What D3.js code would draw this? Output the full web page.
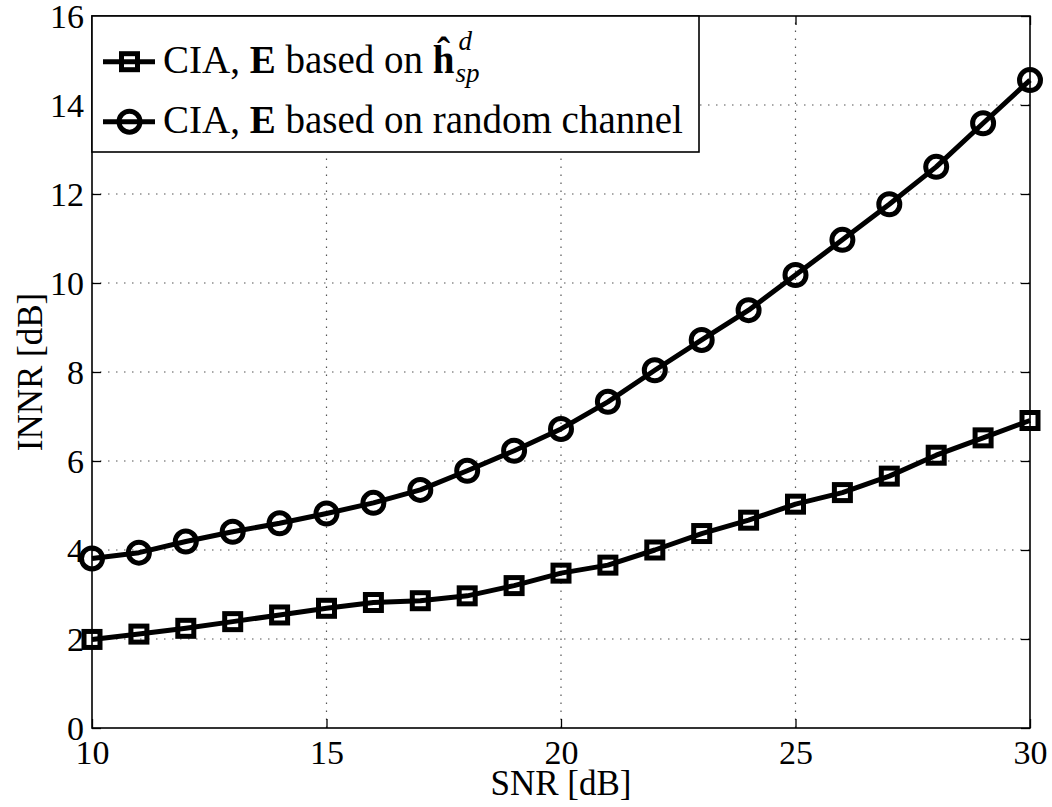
<!DOCTYPE html>
<html>
<head>
<meta charset="utf-8">
<script src="https://cdn.jsdelivr.net/npm/d3@7"></script>
<style>
  html, body { margin: 0; padding: 0; background: #fff; }
  svg { display: block; }
  text { font-family: "Liberation Serif", "Times New Roman", serif; fill: #000; }
</style>
</head>
<body>
<svg id="chart" width="1052" height="807"></svg>
<script>
// ---- data ----
const snr = [10,11,12,13,14,15,16,17,18,19,20,21,22,23,24,25,26,27,28,29,30];
const innrEstimated = [1.99,2.11,2.24,2.39,2.54,2.69,2.82,2.86,2.97,3.20,3.48,3.66,4.00,4.37,4.67,5.03,5.29,5.66,6.13,6.52,6.91];
const innrRandom = [3.81,3.94,4.19,4.41,4.60,4.82,5.06,5.35,5.78,6.23,6.72,7.33,8.04,8.72,9.39,10.18,10.97,11.77,12.61,13.59,14.56];
const xTicks = [10,15,20,25,30];
const yTicks = [0,2,4,6,8,10,12,14,16];
const xLabel = "SNR [dB]";
const yLabel = "INNR [dB]";
const legendRandom = "CIA, E based on random channel";

// ---- layout ----
const svg = d3.select("#chart");
const L = 92, R = 1030, T = 16, B = 728;
const x = d3.scaleLinear().domain([10, 30]).range([L, R]);
const y = d3.scaleLinear().domain([0, 16]).range([B, T]);
const tickLen = 9;

// grid
const grid = svg.append("g").attr("stroke", "#555").attr("stroke-width", 1.2)
  .attr("stroke-dasharray", "1.5,6.5");
grid.selectAll("line.gx").data(xTicks.slice(1, -1)).join("line")
  .attr("x1", d => x(d)).attr("x2", d => x(d)).attr("y1", B).attr("y2", T);
grid.selectAll("line.gy").data(yTicks.slice(1, -1)).join("line")
  .attr("x1", L).attr("x2", R).attr("y1", d => y(d)).attr("y2", d => y(d));

// axes (ticks inside, mirrored)
const axFont = 34;
const gB = svg.append("g").attr("transform", `translate(0,${B})`)
  .call(d3.axisBottom(x).tickValues(xTicks).tickSize(-tickLen).tickPadding(26).tickFormat(d3.format("d")));
const gT = svg.append("g").attr("transform", `translate(0,${T})`)
  .call(d3.axisTop(x).tickValues(xTicks).tickSize(-tickLen).tickFormat(""));
const gL = svg.append("g").attr("transform", `translate(${L},0)`)
  .call(d3.axisLeft(y).tickValues(yTicks).tickSize(-tickLen).tickPadding(8).tickFormat(d3.format("d")));
const gR = svg.append("g").attr("transform", `translate(${R},0)`)
  .call(d3.axisRight(y).tickValues(yTicks).tickSize(-tickLen).tickFormat(""));
[gB, gT, gL, gR].forEach(g => {
  g.select(".domain").remove();
  g.selectAll(".tick line").attr("stroke", "#000").attr("stroke-width", 1.3);
  g.selectAll("text").attr("font-family", "Liberation Serif").attr("font-size", axFont).attr("fill", "#000");
});
gB.selectAll("text").attr("dy", 0).attr("y", 764 - B);
gL.selectAll("text").attr("dy", "0.34em");

// frame
svg.append("rect").attr("x", L).attr("y", T).attr("width", R - L).attr("height", B - T)
  .attr("fill", "none").attr("stroke", "#000").attr("stroke-width", 1.6);

// axis labels
svg.append("text").attr("x", (L + R) / 2).attr("y", 795).attr("text-anchor", "middle")
  .attr("font-size", 35).text(xLabel);
svg.append("text").attr("transform", `translate(42,${(T + B) / 2}) rotate(-90)`)
  .attr("text-anchor", "middle").attr("font-size", 35).text(yLabel);

// series
const line = d3.line().x((d, i) => x(snr[i])).y(d => y(d));
const series = [
  { values: innrEstimated, marker: "square" },
  { values: innrRandom, marker: "circle" }
];
const sqSide = 16, cR = 10.5, lw = 5;
function drawMarker(g, type, cx, cy) {
  if (type === "square") {
    g.append("rect").attr("x", cx - sqSide / 2).attr("y", cy - sqSide / 2)
      .attr("width", sqSide).attr("height", sqSide)
      .attr("fill", "none").attr("stroke", "#000").attr("stroke-width", lw);
  } else {
    g.append("circle").attr("cx", cx).attr("cy", cy).attr("r", cR)
      .attr("fill", "none").attr("stroke", "#000").attr("stroke-width", lw);
  }
}
series.forEach(s => {
  const g = svg.append("g");
  g.append("path").datum(s.values).attr("d", line)
    .attr("fill", "none").attr("stroke", "#000").attr("stroke-width", lw).attr("stroke-linejoin", "round");
  s.values.forEach((v, i) => drawMarker(g, s.marker, x(snr[i]), y(v)));
});

// legend
const lg = svg.append("g");
lg.append("rect").attr("x", L).attr("y", T).attr("width", 699 - L).attr("height", 152 - T)
  .attr("fill", "#fff").attr("stroke", "#000").attr("stroke-width", 1.6);
const legFont = 39;
const rows = [{ y: 61.7, base: 73.3, marker: "square" }, { y: 121.7, base: 133.3, marker: "circle" }];
rows.forEach(r => {
  lg.append("line").attr("x1", 103).attr("x2", 155).attr("y1", r.y).attr("y2", r.y)
    .attr("stroke", "#000").attr("stroke-width", lw);
  drawMarker(lg, r.marker, 129.5, r.y);
});
// row 1: CIA, E based on ĥ_sp^d
const t1 = lg.append("text").attr("x", 163).attr("y", rows[0].base).attr("font-size", legFont);
t1.append("tspan").text("CIA, ");
t1.append("tspan").attr("font-weight", "bold").text("E");
t1.append("tspan").text(" based on ");
t1.append("tspan").attr("font-weight", "bold").text("\u0125");
const end1 = 163 + t1.node().getComputedTextLength();
lg.append("text").attr("x", end1 + 1).attr("y", 82).attr("font-size", 27).attr("font-style", "italic").text("sp");
lg.append("text").attr("x", end1 + 4).attr("y", 50).attr("font-size", 27).attr("font-style", "italic").text("d");
// row 2
const t2 = lg.append("text").attr("x", 163).attr("y", rows[1].base).attr("font-size", legFont);
const parts = legendRandom.split("E");
t2.append("tspan").text(parts[0]);
t2.append("tspan").attr("font-weight", "bold").text("E");
t2.append("tspan").text(parts[1]);
</script>
</body>
</html>
